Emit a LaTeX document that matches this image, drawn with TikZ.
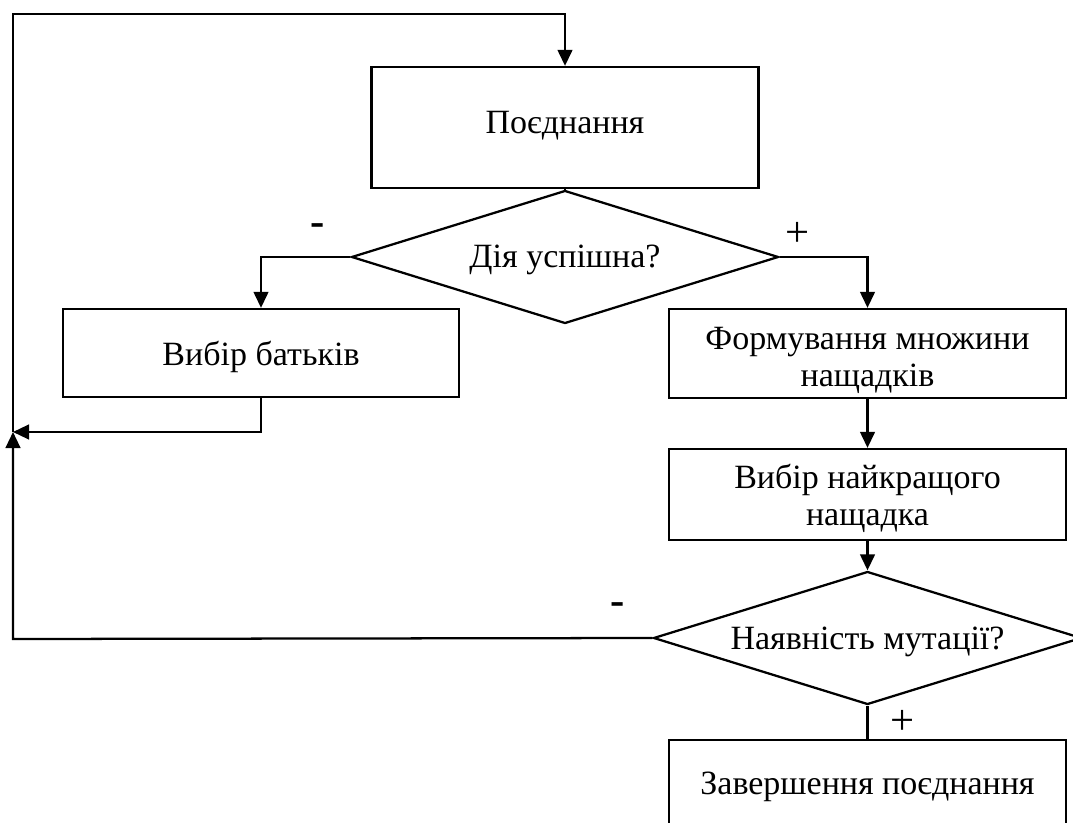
\documentclass[tikz,border=0pt]{standalone}
\usepackage{fontspec}
\setmainfont{Liberation Serif}
\usetikzlibrary{shapes.geometric,arrows.meta}
\newcommand{\lowertxt}[2]{\raisebox{-#1}[\height][\depth]{#2}}
\begin{document}
\begin{tikzpicture}[x=0.75pt,y=-0.75pt,
  every node/.style={font=\fontsize{25.5}{28}\selectfont},
  proc/.style={draw,line width=1.7pt,rectangle,inner sep=0pt,align=center,minimum width=297.75pt},
  dec/.style={draw,line width=1.7pt,diamond,inner sep=0pt,shape aspect=3.2,minimum width=320.25pt,minimum height=99.75pt},
  conn/.style={line width=1.7pt},
  arr/.style={line width=1.7pt,-{Triangle[length=12pt,width=11pt]}},
  lbl/.style={inner sep=0pt,font=\fontsize{32}{34}\selectfont}]
\useasboundingbox (0,0) rectangle (1073,823);
\clip (0,0) rectangle (1073,823);
\node[proc,minimum width=290.25pt,minimum height=90.75pt] (p) at (565,127.5) {\lowertxt{-1.5pt}{Поєднання}};
\node[dec] (d1) at (565,257) {\lowertxt{2pt}{Дія успішна?}};
\node[proc,minimum width=297pt,minimum height=66pt] (b1) at (261,353) {\lowertxt{3pt}{Вибір батьків}};
\node[proc,minimum height=66.75pt] (f1) at (867.5,353.5) {\lowertxt{5pt}{\parbox{290pt}{\centering Формування множини\\нащадків}}};
\node[proc,minimum height=68.25pt] (f2) at (867.5,494.5) {\lowertxt{3pt}{\parbox{290pt}{\centering Вибір найкращого\\нащадка}}};
\node[dec,minimum width=321pt] (d2) at (867.5,638) {\lowertxt{3pt}{Наявність мутації?}};
\node[proc,minimum height=64.5pt] (f3) at (867.5,783) {\lowertxt{3pt}{Завершення поєднання}};
\coordinate (tl) at (13,14);
\coordinate (bl) at (13,639);
\coordinate (mid) at (13,432);
\node[lbl] (m1) at (318,230) {\textbf{-}};
\node[lbl] (pl1) at (798,234) {+};
\node[lbl] (m2) at (618,609) {\textbf{-}};
\node[lbl] (pl2) at (903,722) {+};
\draw[conn] (p.south) -- (d1.north);
\draw[arr] (d1.west) -| (b1.north);
\draw[arr] (d1.east) -| (f1.north);
\draw[arr] (b1.south) |- (mid);
\draw[arr] (f1.south) -- (f2.north);
\draw[arr] (f2.south) -- (d2.north);
\draw[conn] (d2.south) -- (f3.north);
\draw[arr] (d2.west) -- (bl) -- (mid);
\draw[arr] (mid) -- (tl) -| (p.north);
\end{tikzpicture}
\end{document}
